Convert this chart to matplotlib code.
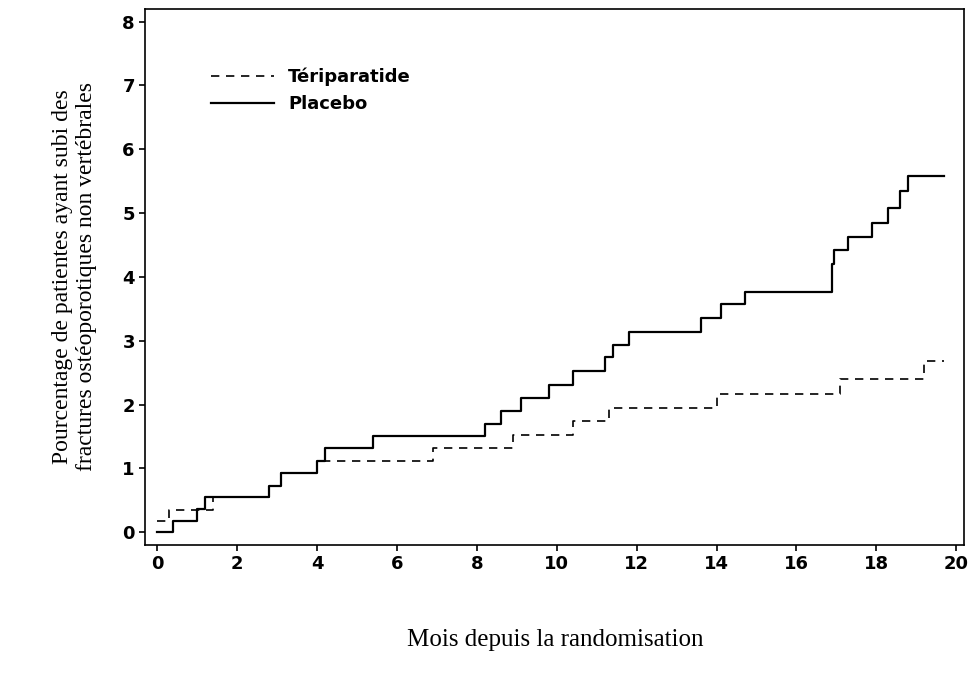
import matplotlib
matplotlib.use('Agg')
import matplotlib.pyplot as plt

# step data (month, cumulative %)
placebo_t = [0, 0.4, 1.0, 1.2, 2.8, 3.1, 4.0, 4.2, 5.4, 8.2, 8.6, 9.1, 9.8, 10.4, 11.2, 11.4,
             11.8, 13.6, 14.1, 14.7, 16.9, 16.95, 17.3, 17.9, 18.3, 18.6, 18.8, 19.7]
placebo_y = [0, 0.18, 0.37, 0.55, 0.72, 0.92, 1.12, 1.32, 1.5, 1.7, 1.9, 2.1, 2.3, 2.52, 2.75, 2.93,
             3.13, 3.35, 3.57, 3.77, 4.2, 4.42, 4.62, 4.85, 5.08, 5.35, 5.58, 5.58]
terip_t = [0, 0.3, 1.4, 2.8, 3.1, 4.0, 6.9, 8.9, 10.4, 11.3, 14.0, 17.1, 19.2, 19.7]
terip_y = [0.18, 0.35, 0.55, 0.72, 0.92, 1.12, 1.32, 1.52, 1.75, 1.95, 2.17, 2.4, 2.68, 2.68]

fig = plt.figure(figsize=(9.75, 6.77), dpi=100)
ax = fig.add_axes([0.149, 0.195, 0.84, 0.792])

ax.step(terip_t, terip_y, where='post', color='black', linestyle=(0, (5, 4)), linewidth=1.2, label='Tériparatide')
ax.step(placebo_t, placebo_y, where='post', color='black', linewidth=1.6, label='Placebo')

ax.set_xlim(-0.3, 20.2)
ax.set_ylim(-0.2, 8.2)
ax.set_xticks(range(0, 21, 2))
ax.set_yticks(range(0, 9))
ax.tick_params(labelsize=13, width=1.2, length=4)
for lab in ax.get_xticklabels() + ax.get_yticklabels():
    lab.set_fontweight('bold')
for s in ax.spines.values():
    s.set_linewidth(1.2)

ax.set_xlabel('Mois depuis la randomisation', family='Liberation Serif', fontsize=18, labelpad=40)
ax.set_ylabel('Pourcentage de patientes ayant subi des\nfractures ostéoporotiques non vertébrales',
              family='Liberation Serif', fontsize=17, labelpad=18)

leg = ax.legend(loc='upper left', bbox_to_anchor=(0.06, 0.92), frameon=False,
                handlelength=3.5, prop={'weight': 'bold', 'size': 13})

plt.savefig('out.png', dpi=100)
